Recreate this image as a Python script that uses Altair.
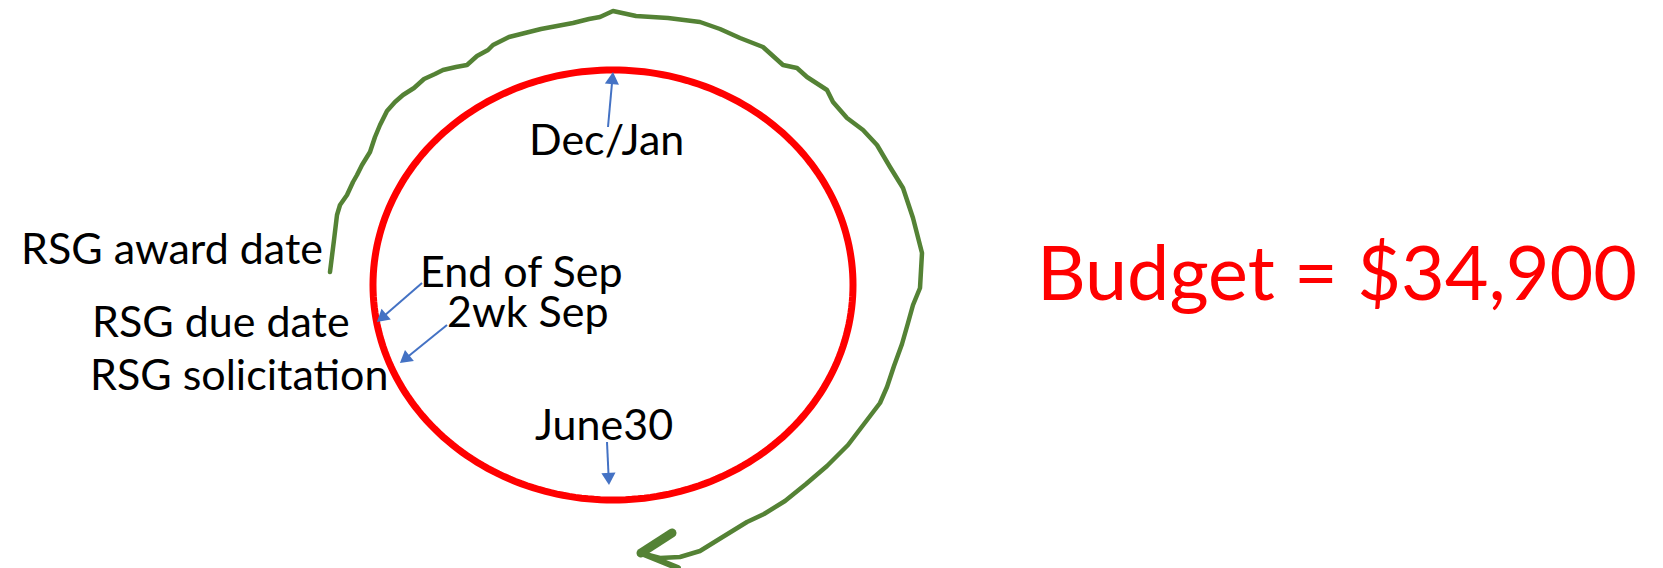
import math
import altair as alt
import pandas as pd

W, H, M = 1663, 568, 8
PH = 548  # plot height (kept below the window height)

# hand-drawn green cycle line (page pixel coordinates)
green_x = [330, 334, 337, 340, 347, 353, 357, 362, 370, 375, 380, 387, 395, 403, 414, 424, 435, 443,
           456, 467, 477, 488, 493, 509, 525, 541, 557, 573, 589, 600, 613, 636, 668, 700, 720, 740,
           763, 783, 797, 807, 827, 833, 847, 863, 877, 890, 903, 913, 922, 920, 913, 908, 902, 894,
           887, 880, 864, 848, 827, 806, 785, 764, 747, 721, 700, 680, 660, 641]
green_y = [267, 235, 210, 200, 190, 177, 170, 160, 147, 132, 120, 106, 97, 90, 83, 74, 69, 65,
           62, 60, 51, 45, 40, 32, 28, 24, 21, 18, 14, 12, 6, 11, 13, 17, 24, 33,
           42, 60, 63, 72, 85, 97, 113, 125, 140, 162, 183, 213, 248, 283, 300, 318, 339, 361,
           382, 398, 419, 440, 461, 479, 496, 509, 517, 533, 546, 552, 553, 548]
# green arrow barbs: tip -> barb end
barb_x0 = [641, 641]
barb_y0 = [548, 548]
barb_x1 = [672, 678]
barb_y1 = [528, 563]

# red cycle ellipse
ell_cx, ell_cy, ell_rx, ell_ry = 613, 280, 240, 215

# blue arrows: tail -> tip
arrow_x0 = [608, 422, 447, 607]
arrow_y0 = [122, 278, 320, 437]
arrow_x1 = [613, 377, 400, 609]
arrow_y1 = [67, 317, 358, 480]

# black labels: left x, baseline y
label_text = ["RSG award date", "RSG due date", "RSG solicitation", "End of Sep", "2wk Sep", "June30", "Dec/Jan"]
label_x = [21, 92, 90, 420, 447, 535, 529]
label_y = [259, 332, 385, 282, 322, 435, 150]

budget_text = ["Budget = $34,900"]
budget_x = [1037]
budget_y = [295]

xs = alt.Scale(domain=[M, W - M], nice=False, zero=False)
ys = alt.Scale(domain=[M, M + PH], nice=False, zero=False, reverse=True)

def X(f):
    return alt.X(f, type="quantitative", scale=xs, axis=None)

def Y(f):
    return alt.Y(f, type="quantitative", scale=ys, axis=None)

n = 240
ell_df = pd.DataFrame({
    "i": list(range(n + 1)),
    "x": [ell_cx + ell_rx * math.cos(2 * math.pi * k / n) for k in range(n + 1)],
    "y": [ell_cy + ell_ry * math.sin(2 * math.pi * k / n) for k in range(n + 1)],
})
ellipse = alt.Chart(ell_df).mark_line(color="#FF0000", strokeWidth=7, clip=False).encode(
    x=X("x"), y=Y("y"), order="i:Q")

green_df = pd.DataFrame({"i": range(len(green_x)), "x": green_x, "y": green_y})
green = alt.Chart(green_df).mark_line(color="#548235", strokeWidth=4.5, strokeCap="round",
                                      strokeJoin="round", clip=False).encode(
    x=X("x"), y=Y("y"), order="i:Q")

barb_df = pd.DataFrame({"x0": barb_x0, "y0": barb_y0, "x1": barb_x1, "y1": barb_y1,
                        "w": [9, 6]})
barbs = alt.Chart(barb_df).mark_rule(color="#548235", strokeCap="round", clip=False).encode(
    x=X("x0"), y=Y("y0"), x2="x1:Q", y2="y1:Q",
    strokeWidth=alt.StrokeWidth("w:Q", scale=None, legend=None))

arr_df = pd.DataFrame({"x0": arrow_x0, "y0": arrow_y0, "x1": arrow_x1, "y1": arrow_y1})
dx = arr_df.x1 - arr_df.x0
dy = arr_df.y1 - arr_df.y0
L = (dx ** 2 + dy ** 2) ** 0.5
arr_df["ang"] = [(math.degrees(math.atan2(a, -b)) + 360) % 360 for a, b in zip(dx, dy)]
arr_df["hx"] = arr_df.x1 - dx / L * 6
arr_df["hy"] = arr_df.y1 - dy / L * 6
arr_df["sx"] = arr_df.x1 - dx / L * 10
arr_df["sy"] = arr_df.y1 - dy / L * 10

shafts = alt.Chart(arr_df).mark_rule(color="#4472C4", strokeWidth=2, clip=False).encode(
    x=X("x0"), y=Y("y0"), x2="sx:Q", y2="sy:Q")
heads = alt.Chart(arr_df).mark_point(shape="triangle-up", filled=True, color="#4472C4",
                                     size=200, opacity=1, clip=False).encode(
    x=X("hx"), y=Y("hy"), angle=alt.Angle("ang:Q", scale=None))

lab_df = pd.DataFrame({"t": label_text, "x": label_x, "y": label_y})
labels = alt.Chart(lab_df).mark_text(align="left", baseline="alphabetic", font="Lato",
                                     fontSize=43, color="#000000", clip=False).encode(
    x=X("x"), y=Y("y"), text="t:N")

bud_df = pd.DataFrame({"t": budget_text, "x": budget_x, "y": budget_y})
budget = alt.Chart(bud_df).mark_text(align="left", baseline="alphabetic", font="Lato",
                                     fontSize=75.5, color="#FF0000", clip=False).encode(
    x=X("x"), y=Y("y"), text="t:N")

chart = alt.layer(ellipse, green, barbs, shafts, heads, labels, budget).properties(
    width=W - 2 * M, height=PH, padding=0, background="white"
).configure_view(stroke=None)

chart.save("out.html", embed_options={"renderer": "svg", "actions": False})
